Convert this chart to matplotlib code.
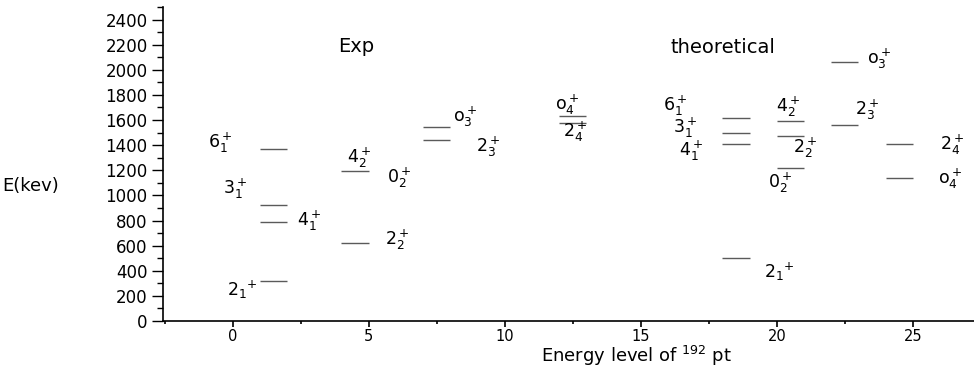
import numpy as np
import matplotlib
matplotlib.use("Agg")
import matplotlib.pyplot as plt
from matplotlib.ticker import MultipleLocator

plt.rcParams['font.family'] = ['DejaVu Sans']
plt.rcParams['mathtext.fontset'] = 'dejavusans'

# experimental levels (keV), column where each level is drawn
exp_names = ['2_1', '4_1', '3_1', '6_1', '2_2', '4_2', '2_3', '0_3', '2_4', '0_4']
exp_energy = [318, 790, 923, 1368, 618, 1196, 1445, 1543, 1573, 1633]
exp_col = [1, 1, 1, 1, 4, 4, 7, 7, 12, 12]

# theoretical levels (keV)
th_names = ['2_1', '4_1', '3_1', '6_1', '0_2', '2_2', '4_2', '2_3', '0_3', '0_4', '2_4']
th_energy = [504, 1408, 1498, 1620, 1215, 1472, 1591, 1559, 2060, 1140, 1408]
th_col = [18, 18, 18, 18, 20, 20, 20, 22, 22, 24, 24]

# level labels: text, x, baseline y
exp_tags = [r'$2_1{}^{+}$', r'$4^+_1$', r'$3^+_1$', r'$6^+_1$', r'$2^+_2$',
            r'$4^+_2$', r'$0^+_2$', r'$2^+_3$', r'$\mathrm{o}^+_3$', r'$2^+_4$', r'$\mathrm{o}^+_4$']
exp_tag_x = [-0.21, 2.36, -0.36, -0.91, 5.6, 4.2, 5.67, 8.95, 8.1, 12.15, 11.85]
exp_tag_y = [199, 756, 1010, 1376, 605, 1257, 1098, 1344, 1583, 1464, 1679]

th_tags = [r'$2_1{}^{+}$', r'$4^+_1$', r'$3^+_1$', r'$6^+_1$', r'$0^+_2$', r'$2^+_2$',
           r'$4^+_2$', r'$2^+_3$', r'$\mathrm{o}^+_3$', r'$\mathrm{o}^+_4$', r'$2^+_4$']
th_tag_x = [19.53, 16.4, 16.2, 15.82, 19.67, 20.6, 19.97, 22.88, 23.3, 25.93, 26.0]
th_tag_y = [342, 1315, 1500, 1672, 1058, 1336, 1663, 1639, 2052, 1090, 1360]

fig = plt.figure(figsize=(9.74, 3.69), dpi=100)
ax = fig.add_axes([163 / 974, 48 / 369, 811 / 974, 314 / 369])

ax.hlines(exp_energy, np.array(exp_col), np.array(exp_col) + 1, colors='#5a5a5a', lw=1.0)
ax.hlines(th_energy, np.array(th_col), np.array(th_col) + 1, colors='#5a5a5a', lw=1.0)

for t, x, y in zip(exp_tags + th_tags, exp_tag_x + th_tag_x, exp_tag_y + th_tag_y):
    ax.text(x, y, t, fontsize=12.5, ha='left', va='baseline')

ax.text(3.87, 2140, 'Exp', fontsize=14, ha='left', va='baseline')
ax.text(16.08, 2132, 'theoretical', fontsize=14, ha='left', va='baseline')

ax.set_xlim(-2.56, 27.25)
ax.set_ylim(0, 2500)
ax.xaxis.set_major_locator(MultipleLocator(5))
ax.xaxis.set_minor_locator(MultipleLocator(2.5))
ax.yaxis.set_major_locator(MultipleLocator(200))
ax.yaxis.set_minor_locator(MultipleLocator(100))
ax.tick_params(axis='y', which='major', length=8, width=1, labelsize=12, pad=3)
ax.tick_params(axis='y', which='minor', length=4.5, width=1)
ax.tick_params(axis='x', which='major', length=4, width=1.2, labelsize=10.5, pad=1.5)
ax.tick_params(axis='x', which='minor', length=2, width=1.2)

for s in ['top', 'right']:
    ax.spines[s].set_visible(False)
for s in ['left', 'bottom']:
    ax.spines[s].set_linewidth(1.2)

ax.set_ylabel('E(kev)', fontsize=13, rotation=0, ha='left', va='center')
ax.yaxis.set_label_coords(-161 / 811, 0.43)
ax.set_xlabel(r'Energy level of $^{192}$ pt', fontsize=13, ha='center', va='baseline')
ax.xaxis.set_label_coords((636 - 163) / 811, -0.131)

fig.savefig('out.png', dpi=100)
